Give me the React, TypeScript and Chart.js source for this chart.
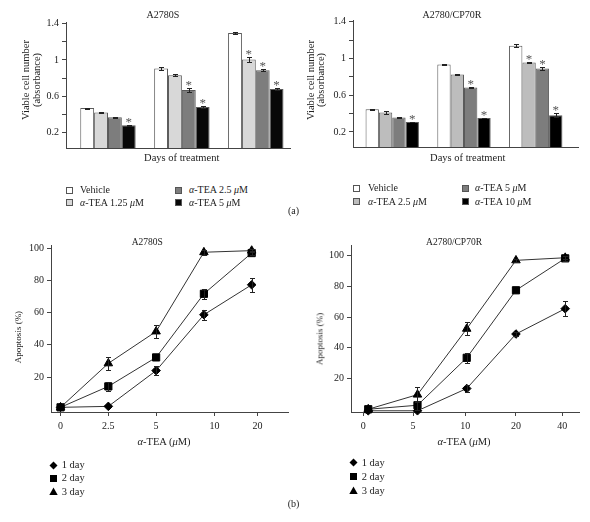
import React, { useEffect, useRef } from 'react';
import { Chart, registerables } from 'chart.js';

Chart.register(...registerables);

const SERIF = '"Liberation Serif", "Times New Roman", Times, serif';
const INK = '#222';
const AXIS = '#444';

// ---------------- (a) viable cell number ----------------
const days = ['Day 1', 'Day 2', 'Day 3'];
const aYTicks = [0.2, 0.4, 0.6, 0.8, 1.0, 1.2, 1.4];
const aYTickLabels = ['0.2', '', '0.6', '', '1', '', '1.4'];

// A2780S
const seriesS = ['Vehicle', 'α-TEA 1.25 μM', 'α-TEA 2.5 μM', 'α-TEA 5 μM'];
const vehicleS = [0.47, 0.906, 1.296];
const vehicleSErr = [0.005, 0.02, 0.015];
const tea125S = [0.42, 0.832, 1.004];
const tea125SErr = [0.005, 0.008, 0.028];
const tea25S = [0.369, 0.668, 0.887];
const tea25SErr = [0.007, 0.02, 0.01];
const tea5S = [0.281, 0.482, 0.679];
const tea5SErr = [0.005, 0.01, 0.01];
const sigVehicleS = [false, false, false];
const sigTea125S = [false, false, true];
const sigTea25S = [false, true, true];
const sigTea5S = [true, true, true];

// A2780/CP70R
const seriesR = ['Vehicle', 'α-TEA 2.5 μM', 'α-TEA 5 μM', 'α-TEA 10 μM'];
const vehicleR = [0.448, 0.935, 1.138];
const vehicleRErr = [0.005, 0.01, 0.018];
const tea25R = [0.412, 0.826, 0.957];
const tea25RErr = [0.018, 0.01, 0.005];
const tea5R = [0.357, 0.684, 0.89];
const tea5RErr = [0.01, 0.005, 0.02];
const tea10R = [0.309, 0.353, 0.382];
const tea10RErr = [0.003, 0.003, 0.02];
const sigVehicleR = [false, false, false];
const sigTea25R = [false, false, true];
const sigTea5R = [false, true, true];
const sigTea10R = [true, true, true];

// ---------------- (b) apoptosis ----------------
const bYTicks = [20, 40, 60, 80, 100];
const dayLabels = ['1 day', '2 day', '3 day'];

// A2780S
const doseLabelsS = ['0', '2.5', '5', '10', '20'];
const doseTickAtS = [0, 1, 2, 3.22, 4.12];
const day1S = [1.2, 1.8, 24, 58.7, 77.3];
const day1SErr = [0, 0, 3, 3.2, 4.3];
const day2S = [1.2, 14.2, 32.2, 71.7, 97];
const day2SErr = [0, 3, 0, 3, 1.5];
const day3S = [1.2, 28.5, 48.3, 97.5, 98.5];
const day3SErr = [0, 4.2, 4.1, 1.5, 0.8];

// A2780/CP70R
const doseLabelsR = ['0', '5', '10', '20', '40'];
const doseTickAtR = [-0.1, 0.91, 1.97, 3.0, 3.94];
const day1R = [-1, -1, 13.5, 49, 65.5];
const day1RErr = [0, 0, 2.2, 1.5, 4.9];
const day2R = [0, 2.6, 33.5, 77.5, 98.3];
const day2RErr = [0, 3, 3.3, 0, 1.5];
const day3R = [0, 9.5, 52.4, 97, 98.7];
const day3RErr = [0, 5, 4.2, 1, 1];

// ---------------- styles ----------------
const barColorsS = ['#ffffff', '#d8d8d8', '#7d7d7d', '#080808'];
const barColorsR = ['#ffffff', '#bdbdbd', '#7d7d7d', '#000000'];
const pointStyles = ['rectRot', 'rect', 'triangle'];
const pointRadii = [4.3, 5.1, 4.9];

const errPlugin = {
  id: 'errBars',
  afterDatasetsDraw(chart: any) {
    const { ctx } = chart;
    const ys = chart.scales.y;
    ctx.save();
    ctx.lineWidth = 1;
    chart.data.datasets.forEach((ds: any, di: number) => {
      if (!ds.err) return;
      const meta = chart.getDatasetMeta(di);
      meta.data.forEach((el: any, i: number) => {
        const raw = ds.data[i];
        const v = typeof raw === 'number' ? raw : raw.y;
        const e = ds.err[i];
        const x = Math.round(el.x) + 0.5;
        const t = ys.getPixelForValue(v + e);
        const b = ys.getPixelForValue(v - e);
        if (e > 0) {
          ctx.strokeStyle = INK;
          const tt = Math.round(t) + 0.5;
          const bb = Math.round(b) + 0.5;
          ctx.beginPath();
          ctx.moveTo(x, tt);
          ctx.lineTo(x, bb);
          ctx.moveTo(x - 2.5, tt);
          ctx.lineTo(x + 2.5, tt);
          ctx.moveTo(x - 2.5, bb);
          ctx.lineTo(x + 2.5, bb);
          ctx.stroke();
        }
        if (ds.sig && ds.sig[i]) {
          ctx.fillStyle = '#555';
          ctx.font = `13px ${SERIF}`;
          ctx.textAlign = 'center';
          ctx.textBaseline = 'alphabetic';
          ctx.fillText('*', el.x, t + 1);
        }
      });
    });
    ctx.restore();
  },
};

function barConfig(
  labels: string[],
  values: number[][],
  errs: number[][],
  sigs: boolean[][],
  colors: string[],
  xMin: number,
  xMax: number,
  yMin: number,
  yMax: number,
  yW: number,
  xH: number,
  padTop: number,
  padRight: number,
  catPct: number
) {
  return {
    type: 'bar',
    data: {
      datasets: values.map((d, k) => ({
        label: labels[k],
        data: d.map((v, i) => ({ x: i, y: v, day: days[i] })),
        err: errs[k],
        sig: sigs[k],
        backgroundColor: colors[k],
        borderColor: '#5a5a5a',
        borderWidth: 1,
        categoryPercentage: catPct,
        barPercentage: 1,
      })),
    },
    options: {
      responsive: false,
      animation: false,
      events: [],
      layout: { padding: { top: padTop, right: padRight, left: 0, bottom: 0 } },
      plugins: { legend: { display: false }, tooltip: { enabled: false } },
      scales: {
        x: {
          type: 'linear',
          offset: false,
          min: xMin,
          max: xMax,
          afterBuildTicks: (s: any) => {
            s.ticks = days.map((_d, i) => ({ value: i }));
          },
          ticks: { display: false },
          grid: { display: false },
          border: { display: true, color: AXIS, width: 1 },
          afterFit: (s: any) => {
            s.height = xH;
          },
        },
        y: {
          min: yMin,
          max: yMax,
          afterBuildTicks: (s: any) => {
            s.ticks = aYTicks.map((v) => ({ value: v }));
          },
          afterFit: (s: any) => {
            s.width = yW;
          },
          ticks: {
            autoSkip: false,
            padding: 3,
            color: INK,
            font: { family: SERIF, size: 10 },
            callback: (_v: any, i: number) => aYTickLabels[i],
          },
          grid: { drawOnChartArea: false, drawTicks: true, tickLength: 4, color: AXIS },
          border: { display: true, color: AXIS, width: 1 },
        },
      },
    },
    plugins: [errPlugin],
  };
}

function lineConfig(
  series: number[][],
  errs: number[][],
  tickAt: number[],
  tickLabels: string[],
  xMin: number,
  xMax: number,
  yMin: number,
  yMax: number,
  yW: number,
  xH: number,
  padTop: number,
  padRight: number
) {
  return {
    type: 'line',
    data: {
      datasets: series.map((d, k) => ({
        label: dayLabels[k],
        data: d.map((v, i) => ({ x: i, y: v })),
        err: errs[k],
        borderColor: '#333',
        borderWidth: 1,
        tension: 0,
        pointStyle: pointStyles[k],
        pointRadius: pointRadii[k],
        pointBackgroundColor: '#000',
        pointBorderColor: '#000',
        pointBorderWidth: 1,
        clip: false,
      })),
    },
    options: {
      responsive: false,
      animation: false,
      events: [],
      layout: { padding: { top: padTop, right: padRight, left: 0, bottom: 0 } },
      plugins: { legend: { display: false }, tooltip: { enabled: false } },
      scales: {
        x: {
          type: 'linear',
          min: xMin,
          max: xMax,
          afterBuildTicks: (s: any) => {
            s.ticks = tickAt.map((v) => ({ value: v }));
          },
          afterFit: (s: any) => {
            s.height = xH;
          },
          ticks: {
            autoSkip: false,
            maxRotation: 0,
            padding: 4,
            color: INK,
            font: { family: SERIF, size: 10 },
            callback: (_v: any, i: number) => tickLabels[i],
          },
          grid: { drawOnChartArea: false, drawTicks: true, tickLength: 4, color: AXIS },
          border: { display: true, color: AXIS, width: 1 },
        },
        y: {
          min: yMin,
          max: yMax,
          afterBuildTicks: (s: any) => {
            s.ticks = bYTicks.map((v) => ({ value: v }));
          },
          afterFit: (s: any) => {
            s.width = yW;
          },
          ticks: {
            autoSkip: false,
            padding: 3,
            color: INK,
            font: { family: SERIF, size: 10 },
            callback: (v: any) => String(v),
          },
          grid: { drawOnChartArea: false, drawTicks: true, tickLength: 4, color: AXIS },
          border: { display: true, color: AXIS, width: 1 },
        },
      },
    },
    plugins: [errPlugin],
  };
}

function ChartCanvas({ make, left, top, w, h }: { make: () => any; left: number; top: number; w: number; h: number }) {
  const ref = useRef<HTMLCanvasElement>(null);
  useEffect(() => {
    const c = new Chart(ref.current as HTMLCanvasElement, make());
    return () => c.destroy();
  }, []);
  return (
    <canvas
      ref={ref}
      width={w}
      height={h}
      style={{ position: 'absolute', left, top, width: w, height: h }}
    />
  );
}

function greek(s: string) {
  const parts = s.split(/([αμ])/);
  return parts.map((p, i) => (p === 'α' || p === 'μ' ? <i key={i}>{p}</i> : <span key={i}>{p}</span>));
}

function T({ x, y, size = 10, children, rotate = false, lh }: any) {
  return (
    <div
      style={{
        position: 'absolute',
        left: x,
        top: y,
        transform: `translate(-50%, -50%)${rotate ? ' rotate(-90deg)' : ''}`,
        whiteSpace: 'nowrap',
        fontSize: size,
        lineHeight: lh ? `${lh}px` : 1,
        textAlign: 'center',
      }}
    >
      {children}
    </div>
  );
}

function SquareItem({ x, y, tx, color, label }: any) {
  return (
    <>
      <div
        style={{
          position: 'absolute',
          left: x,
          top: y - 3.5,
          width: 7,
          height: 7,
          boxSizing: 'border-box',
          border: '1px solid #555',
          background: color,
        }}
      />
      <div style={{ position: 'absolute', left: tx, top: y, transform: 'translateY(-50%)', whiteSpace: 'nowrap', fontSize: 10, lineHeight: 1 }}>
        {greek(label)}
      </div>
    </>
  );
}

function MarkerItem({ x, y, tx, kind, label }: any) {
  let shape: any = null;
  if (kind === 0) shape = <polygon points="4.5,0.5 8.5,4.5 4.5,8.5 0.5,4.5" fill="#000" />;
  else if (kind === 1) shape = <rect x="1" y="1" width="7" height="7" fill="#000" />;
  else shape = <polygon points="4.5,0.5 8.7,8 0.3,8" fill="#000" />;
  return (
    <>
      <svg width={9} height={9} style={{ position: 'absolute', left: x - 4.5, top: y - 4.5 }}>
        {shape}
      </svg>
      <div style={{ position: 'absolute', left: tx, top: y, transform: 'translateY(-50%)', whiteSpace: 'nowrap', fontSize: 10.5, lineHeight: 1 }}>
        {label}
      </div>
    </>
  );
}

export default function App() {
  return (
    <div
      style={{
        position: 'fixed',
        left: 0,
        top: 0,
        width: 590,
        height: 522,
        background: '#fff',
        fontFamily: SERIF,
        color: INK,
        overflow: 'hidden',
      }}
    >
      <ChartCanvas
        left={0}
        top={0}
        w={300}
        h={160}
        make={() =>
          barConfig(
            seriesS,
            [vehicleS, tea125S, tea25S, tea5S],
            [vehicleSErr, tea125SErr, tea25SErr, tea5SErr],
            [sigVehicleS, sigTea125S, sigTea25S, sigTea5S],
            barColorsS,
            -0.568,
            2.463,
            0.03,
            1.418,
            66,
            12,
            22,
            10,
            0.75
          )
        }
      />
      <ChartCanvas
        left={300}
        top={0}
        w={290}
        h={160}
        make={() =>
          barConfig(
            seriesR,
            [vehicleR, tea25R, tea5R, tea10R],
            [vehicleRErr, tea25RErr, tea5RErr, tea10RErr],
            [sigVehicleR, sigTea25R, sigTea5R, sigTea10R],
            barColorsR,
            -0.547,
            2.589,
            0.036,
            1.419,
            53,
            13,
            20,
            12,
            0.744
          )
        }
      />
      <ChartCanvas
        left={0}
        top={232}
        w={300}
        h={210}
        make={() =>
          lineConfig(
            [day1S, day2S, day3S],
            [day1SErr, day2SErr, day3SErr],
            doseTickAtS,
            doseLabelsS,
            -0.2,
            4.76,
            -1.7,
            102,
            51,
            30,
            13,
            12
          )
        }
      />
      <ChartCanvas
        left={300}
        top={232}
        w={290}
        h={210}
        make={() =>
          lineConfig(
            [day1R, day2R, day3R],
            [day1RErr, day2RErr, day3RErr],
            doseTickAtR,
            doseLabelsR,
            -0.35,
            4.28,
            -1.8,
            107,
            51,
            30,
            13,
            11
          )
        }
      />

      {/* panel (a) texts */}
      <T x={163} y={15} size={10}>A2780S</T>
      <T x={452} y={15} size={10}>A2780/CP70R</T>
      <T x={30.5} y={80} size={10.5} rotate lh={11}>
        Viable cell number
        <br />
        (absorbance)
      </T>
      <T x={316} y={79.5} size={10.5} rotate lh={10}>
        Viable cell number
        <br />
        (absorbance)
      </T>
      <T x={181.7} y={158.3} size={10.5}>Days of treatment</T>
      <T x={467.7} y={157.7} size={10.5}>Days of treatment</T>

      <SquareItem x={66} y={190} tx={80} color={barColorsS[0]} label={seriesS[0]} />
      <SquareItem x={66} y={202.7} tx={80} color={barColorsS[1]} label={seriesS[1]} />
      <SquareItem x={175} y={190} tx={189} color={barColorsS[2]} label={seriesS[2]} />
      <SquareItem x={175} y={202.7} tx={189} color={barColorsS[3]} label={seriesS[3]} />

      <SquareItem x={353} y={188.3} tx={368} color={barColorsR[0]} label={seriesR[0]} />
      <SquareItem x={353} y={201.7} tx={368} color={barColorsR[1]} label={seriesR[1]} />
      <SquareItem x={461.5} y={188.3} tx={475} color={barColorsR[2]} label={seriesR[2]} />
      <SquareItem x={461.5} y={201.7} tx={475} color={barColorsR[3]} label={seriesR[3]} />

      <T x={293.5} y={211} size={10}>(a)</T>

      {/* panel (b) texts */}
      <T x={147.3} y={242.5} size={9.5}>A2780S</T>
      <T x={454} y={243} size={9.5}>A2780/CP70R</T>
      <T x={18.3} y={336.7} size={9} rotate>Apoptosis (%)</T>
      <T x={319.7} y={339} size={9} rotate>Apoptosis (%)</T>
      <T x={164} y={442.3} size={10.5}>{greek('α-TEA (μM)')}</T>
      <T x={464} y={441.7} size={10.5}>{greek('α-TEA (μM)')}</T>

      <MarkerItem x={53.7} y={465} tx={61.7} kind={0} label={dayLabels[0]} />
      <MarkerItem x={53.7} y={478.3} tx={61.7} kind={1} label={dayLabels[1]} />
      <MarkerItem x={53.7} y={491.7} tx={61.7} kind={2} label={dayLabels[2]} />

      <MarkerItem x={353.3} y={462.7} tx={361.7} kind={0} label={dayLabels[0]} />
      <MarkerItem x={353.3} y={476.7} tx={361.7} kind={1} label={dayLabels[1]} />
      <MarkerItem x={353.3} y={490.7} tx={361.7} kind={2} label={dayLabels[2]} />

      <T x={293.5} y={504} size={10}>(b)</T>
    </div>
  );
}
